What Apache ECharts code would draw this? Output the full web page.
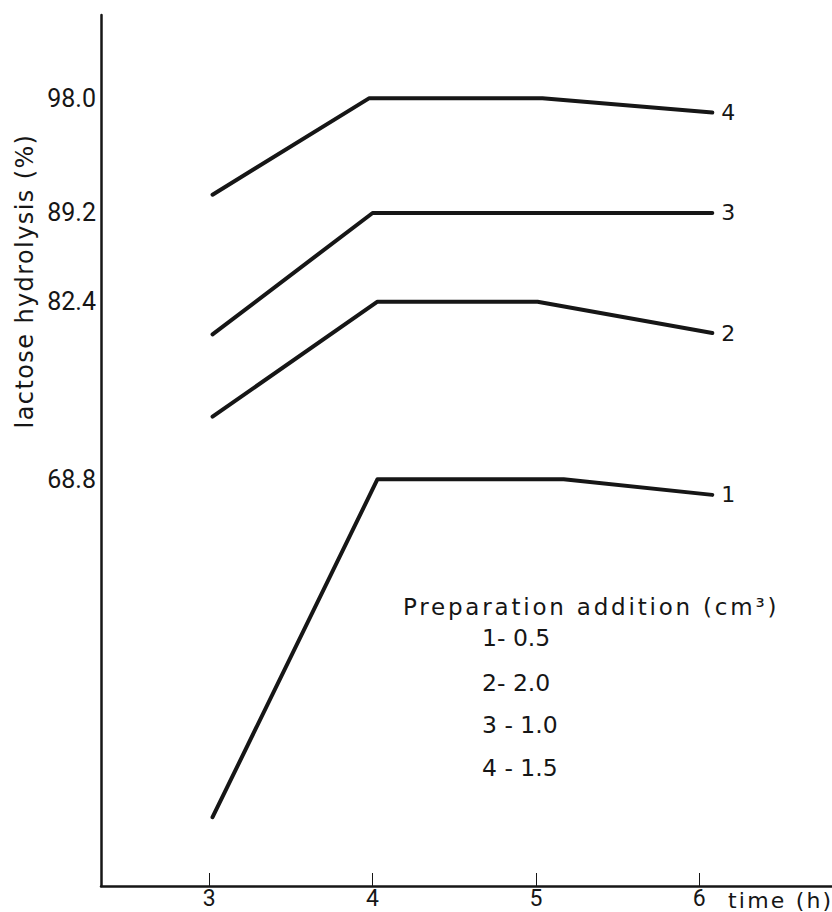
<!DOCTYPE html>
<html>
<head>
<meta charset="utf-8">
<script src="https://cdn.jsdelivr.net/npm/echarts@6/dist/echarts.min.js"></script>
<style>
  html, body { margin: 0; padding: 0; background: #ffffff; }
  #chart { width: 832px; height: 912px; }
  #chart svg text[style*="DejaVu"][style*="23px"] { letter-spacing: 2.8px; }
  #chart svg text[style*="DejaVu"][style*="22px"] { letter-spacing: 2.2px; }
  #chart svg text[style*="DejaVu"][style*="24px"] { letter-spacing: 1.4px; }
</style>
</head>
<body>
<div id="chart"></div>
<script>
// ---- data ----
const hourTicks = [3, 4, 5, 6];
const yTickValues = [68.8, 82.4, 89.2, 98.0];
const seriesNames = ['1', '2', '3', '4'];
const additions = ['0.5', '2.0', '1.0', '1.5'];
const legendSeparators = ['- ', '- ', ' - ', ' - '];

const series1Hours = [3.02, 4.03, 5.17, 6.08];
const series1Values = [42.9, 68.8, 68.8, 67.6];
const series2Hours = [3.02, 4.03, 5.01, 6.08];
const series2Values = [73.6, 82.4, 82.4, 80.0];
const series3Hours = [3.02, 4.0, 6.08];
const series3Values = [79.9, 89.2, 89.2];
const series4Hours = [3.02, 3.98, 5.04, 6.08];
const series4Values = [90.6, 98.0, 98.0, 96.9];

const yAxisTitle = 'lactose hydrolysis (%)';
const xAxisTitle = 'time (h)';
const legendTitle = 'Preparation addition (cm\u00b3)';

// ---- chart ----
const INK = '#161616';
const TEXT_FONT = 'DejaVu Sans';
const NUM_FONT = 'Roboto';

const hoursList = [series1Hours, series2Hours, series3Hours, series4Hours];
const valuesList = [series1Values, series2Values, series3Values, series4Values];

function pairs(xs, ys) { return xs.map((x, i) => [x, ys[i]]); }

const chart = echarts.init(document.getElementById('chart'), null, { renderer: 'svg' });

const legendTexts = [{
  type: 'text', x: 403, y: 607,
  style: { text: legendTitle, fill: INK, fontSize: 23, fontFamily: TEXT_FONT, textVerticalAlign: 'middle' }
}];
const legendRowsY = [638, 683, 725, 768];
seriesNames.forEach((n, i) => {
  legendTexts.push({
    type: 'text', x: 482, y: legendRowsY[i],
    style: { text: n + legendSeparators[i] + additions[i], fill: INK, fontSize: 23.5, fontFamily: TEXT_FONT, textVerticalAlign: 'middle' }
  });
});

chart.setOption({
  animation: false,
  backgroundColor: '#ffffff',
  grid: { left: 101, right: 0, top: 15, bottom: 26, outerBoundsMode: 'none', containLabel: false },
  xAxis: {
    type: 'value', min: 2.337, max: 6.813,
    axisLine: { show: true, lineStyle: { color: INK, width: 2.5 } },
    axisTick: { show: true, inside: true, length: 13, customValues: hourTicks, lineStyle: { color: INK, width: 1 } },
    axisLabel: { show: true, customValues: hourTicks, margin: 1, color: INK, fontSize: 23, fontFamily: NUM_FONT },
    splitLine: { show: false }
  },
  yAxis: {
    type: 'value', min: 37.63, max: 104.37,
    axisLine: { show: true, lineStyle: { color: INK, width: 2.5 } },
    axisTick: { show: false },
    axisLabel: {
      show: true, customValues: yTickValues, margin: 5, color: INK, fontSize: 25, fontFamily: NUM_FONT,
      formatter: v => Number(v).toFixed(1)
    },
    splitLine: { show: false }
  },
  series: seriesNames.map((name, i) => ({
    name: name,
    type: 'line',
    data: pairs(hoursList[i], valuesList[i]),
    symbol: 'none',
    lineStyle: { color: INK, width: 4, cap: 'round', join: 'round' },
    endLabel: { show: true, formatter: '{a}', distance: 9, color: INK, fontSize: 22, fontFamily: TEXT_FONT }
  })),
  graphic: [
    {
      type: 'text', x: 25, y: 281, rotation: Math.PI / 2,
      style: { text: yAxisTitle, fill: INK, fontSize: 24, fontFamily: TEXT_FONT, textAlign: 'center', textVerticalAlign: 'middle' }
    },
    {
      type: 'text', x: 728, y: 900,
      style: { text: xAxisTitle, fill: INK, fontSize: 22, fontFamily: TEXT_FONT, textVerticalAlign: 'middle' }
    }
  ].concat(legendTexts)
});
</script>
</body>
</html>
